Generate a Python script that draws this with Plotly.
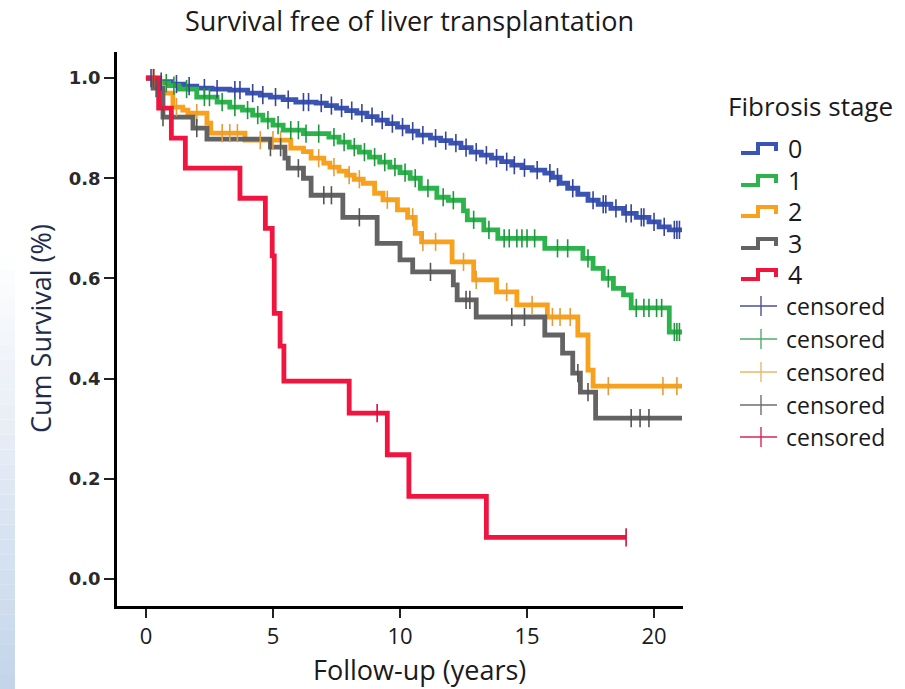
import numpy as np
import plotly.graph_objects as go

# ---- Kaplan-Meier estimates by fibrosis stage ----
# event times (years) and survival just after each step; curve starts at (0, 1.0)
stage_labels = ["0", "1", "2", "3", "4"]

s0_time = [0, 0.5, 1.0, 1.5, 2.0, 2.6, 3.3, 4.0, 4.5, 4.9, 5.4, 5.9, 6.7, 7.1, 7.5, 7.9,
           8.3, 8.7, 9.1, 9.5, 9.9, 10.3, 10.7, 11.2, 11.6, 12.0, 12.4, 12.8, 13.2, 13.6,
           14.0, 14.4, 14.8, 15.2, 15.7, 16.0, 16.3, 16.6, 17.0, 17.4, 17.8, 18.3, 18.8,
           19.3, 19.8, 20.2, 20.6]
s0_surv = [1.0, 0.993, 0.988, 0.984, 0.98, 0.978, 0.976, 0.97, 0.966, 0.962, 0.957, 0.952,
           0.95, 0.945, 0.94, 0.935, 0.93, 0.923, 0.916, 0.909, 0.902, 0.894, 0.886, 0.88,
           0.875, 0.87, 0.861, 0.852, 0.846, 0.84, 0.833, 0.826, 0.821, 0.816, 0.81, 0.802,
           0.79, 0.78, 0.768, 0.756, 0.748, 0.74, 0.73, 0.722, 0.713, 0.703, 0.697]
s0_censor = [0.2, 0.6, 1.2, 1.7, 2.3, 2.8, 3.5, 3.7, 4.2, 4.6, 5.1, 5.6, 6.2, 6.4, 6.9, 7.3,
             7.7, 8.1, 8.5, 8.9, 9.3, 9.7, 10.1, 10.5, 10.9, 11.4, 11.8, 12.2, 12.6, 13.0,
             13.4, 13.8, 14.2, 14.5, 14.9, 15.4, 15.9, 16.2, 16.8, 17.6, 18.0, 18.1, 18.5,
             18.9, 19.1, 19.5, 19.6, 20.0, 20.4, 20.8, 20.9, 21.0]
s0_end = 21.1

s1_time = [0, 0.4, 0.9, 1.3, 2.0, 2.8, 3.3, 3.8, 4.2, 4.6, 5.0, 5.4, 6.2, 7.2, 7.6, 8.0,
           8.4, 8.8, 9.2, 9.6, 10.0, 10.4, 10.8, 11.45, 11.9, 12.5, 12.65, 13.3, 13.85,
           15.7, 17.2, 17.6, 18.0, 18.4, 18.8, 19.1, 20.6]
s1_surv = [1.0, 0.99, 0.985, 0.978, 0.962, 0.952, 0.942, 0.936, 0.926, 0.916, 0.906, 0.896,
           0.889, 0.882, 0.872, 0.862, 0.852, 0.842, 0.832, 0.822, 0.811, 0.80, 0.78, 0.762,
           0.756, 0.735, 0.717, 0.697, 0.68, 0.66, 0.64, 0.62, 0.60, 0.58, 0.567, 0.541,
           0.493]
s1_censor = [0.3, 0.8, 1.1, 1.6, 2.3, 2.5, 3.0, 3.5, 4.0, 4.4, 4.8, 5.2, 5.7, 6.0, 6.3, 6.8,
             7.4, 7.8, 8.2, 8.6, 9.0, 9.4, 9.8, 10.2, 10.6, 11.1, 11.7, 12.1, 12.9, 13.5,
             14.1, 14.3, 14.6, 14.8, 15.0, 15.3, 16.2, 16.6, 17.4, 18.2, 19.3, 19.6, 19.8,
             20.1, 20.3, 20.8, 20.9, 21.0]
s1_end = 21.1

s2_time = [0, 0.55, 1.06, 1.45, 1.65, 2.4, 2.55, 3.9, 5.7, 6.2, 6.5, 7.0, 7.24, 7.6, 7.9,
           8.2, 8.55, 9.0, 9.33, 9.9, 10.3, 10.6, 10.85, 12.05, 12.9, 13.8, 14.6, 15.8,
           17.0, 17.4, 17.6]
s2_surv = [1.0, 0.97, 0.942, 0.936, 0.93, 0.91, 0.89, 0.876, 0.86, 0.853, 0.84, 0.83,
           0.822, 0.814, 0.806, 0.798, 0.79, 0.77, 0.757, 0.737, 0.722, 0.69, 0.673, 0.633,
           0.597, 0.573, 0.547, 0.523, 0.487, 0.417, 0.385]
s2_censor = [0.3, 1.2, 2.0, 3.0, 3.3, 3.6, 4.5, 5.0, 5.3, 6.8, 7.4, 8.0, 8.4, 9.5, 10.5,
             10.9, 11.4, 12.5, 13.0, 14.2, 15.2, 16.0, 16.3, 16.7, 18.2, 20.35, 20.9]
s2_end = 21.1

s3_time = [0, 0.28, 0.67, 1.85, 2.4, 4.9, 5.47, 5.6, 6.2, 6.5, 7.75, 9.1, 10.0, 10.5,
           12.1, 12.25, 13.0, 15.7, 16.4, 16.8, 17.1, 17.7]
s3_surv = [1.0, 0.98, 0.922, 0.90, 0.878, 0.862, 0.84, 0.82, 0.80, 0.766, 0.722, 0.67,
           0.637, 0.613, 0.587, 0.557, 0.523, 0.487, 0.451, 0.411, 0.373, 0.321]
s3_censor = [0.4, 0.67, 2.0, 4.9, 5.3, 6.0, 7.0, 7.3, 8.4, 11.2, 12.6, 12.75, 14.4, 14.9,
             17.0, 17.4, 19.1, 19.45, 19.8]
s3_end = 21.1

s4_time = [0, 0.5, 1.0, 1.55, 3.7, 4.7, 4.97, 5.05, 5.28, 5.43, 8.0, 9.5, 10.35, 13.4]
s4_surv = [1.0, 0.94, 0.88, 0.82, 0.76, 0.70, 0.645, 0.53, 0.465, 0.395, 0.331, 0.248,
           0.165, 0.083]
s4_censor = [0.3, 9.1, 18.9]
s4_end = 18.9

x_ticks = [0, 5, 10, 15, 20]
y_ticks = [0.0, 0.2, 0.4, 0.6, 0.8, 1.0]

# ---- styling ----
line_colors = ["#3a54b4", "#2db34c", "#f7a11d", "#636363", "#f0143f"]
censor_colors = ["#36449c", "#20973f", "#e49d3a", "#555555", "#d01040"]
legend_censor_colors = ["#4a4f9a", "#4cae6a", "#e9b86a", "#6e6e6e", "#d8245a"]
text_color = "#1a1a1a"
FONT = "Open Sans"

W, H = 905, 689
L, R, T, B = 117, 222, 52, 83
PW, PH = W - L - R, H - T - B


def px(x):
    return (x - L) / PW


def py(y):
    return (H - B - y) / PH


series = [
    (s0_time, s0_surv, s0_censor, s0_end),
    (s1_time, s1_surv, s1_censor, s1_end),
    (s2_time, s2_surv, s2_censor, s2_end),
    (s3_time, s3_surv, s3_censor, s3_end),
    (s4_time, s4_surv, s4_censor, s4_end),
]

fig = go.Figure()

# curves
for i, (t, s, c, end) in enumerate(series):
    xs = list(t) + [end]
    ys = list(s) + [s[-1]]
    fig.add_trace(go.Scatter(
        x=xs, y=ys, mode="lines", line=dict(color=line_colors[i], width=4.8, shape="hv"),
        name=stage_labels[i], showlegend=False, hoverinfo="skip"))

# censoring marks placed on the step function
for i, (t, s, c, end) in enumerate(series):
    ta = np.array(t)
    sa = np.array(s)
    idx = np.searchsorted(ta, np.array(c), side="right") - 1
    fig.add_trace(go.Scatter(
        x=c, y=sa[idx], mode="markers",
        marker=dict(symbol="line-ns", size=13, line=dict(color=censor_colors[i], width=1.6)),
        name="censored", showlegend=False, hoverinfo="skip"))

shapes = []
annotations = []

# soft blue strip on the left edge
n_band = 30
y0_band, y1_band = 240, H
for k in range(n_band):
    a = k / (n_band - 1)
    r = int(round(255 + (196 - 255) * a))
    g = int(round(255 + (213 - 255) * a))
    b = int(round(255 + (234 - 255) * a))
    ya = y0_band + (y1_band - y0_band) * k / n_band
    yb = y0_band + (y1_band - y0_band) * (k + 1) / n_band
    shapes.append(dict(type="rect", xref="paper", yref="paper", x0=px(0), x1=px(15),
                       y0=py(yb), y1=py(ya), line=dict(width=0),
                       fillcolor=f"rgb({r},{g},{b})", layer="below"))

# legend: title, step icons for the stages, crosses for censoring
LEG_TITLE = 26
LEG_SIZE = 23
annotations.append(dict(text="Fibrosis stage", x=px(726), y=py(106), xref="paper", yref="paper",
                        xanchor="left", yanchor="middle", showarrow=False,
                        font=dict(family=FONT, size=LEG_TITLE, color=text_color)))
row_y = [148, 180, 211, 243, 274]
for i, yc in enumerate(row_y):
    path = (f"M {px(741)},{py(yc + 5)} L {px(758)},{py(yc + 5)} L {px(758)},{py(yc - 4)} "
            f"L {px(776)},{py(yc - 4)} L {px(776)},{py(yc + 3)}")
    shapes.append(dict(type="path", xref="paper", yref="paper", path=path,
                       line=dict(color=line_colors[i], width=4)))
    annotations.append(dict(text=stage_labels[i], x=px(786), y=py(yc), xref="paper",
                            yref="paper", xanchor="left", yanchor="middle", showarrow=False,
                            font=dict(family=FONT, size=LEG_SIZE + 2, color=text_color)))
cens_y = [306, 339, 372, 405, 437]
for i, yc in enumerate(cens_y):
    shapes.append(dict(type="line", xref="paper", yref="paper", x0=px(740), x1=px(777),
                       y0=py(yc), y1=py(yc),
                       line=dict(color=legend_censor_colors[i], width=1.4)))
    shapes.append(dict(type="line", xref="paper", yref="paper", x0=px(761), x1=px(761),
                       y0=py(yc - 10), y1=py(yc + 10),
                       line=dict(color=legend_censor_colors[i], width=1.4)))
    annotations.append(dict(text="censored", x=px(784), y=py(yc), xref="paper", yref="paper",
                            xanchor="left", yanchor="middle", showarrow=False,
                            font=dict(family=FONT, size=LEG_SIZE, color=text_color)))

# titles
annotations.append(dict(text="Survival free of liver transplantation", x=px(409), y=py(20),
                        xref="paper", yref="paper", xanchor="center", yanchor="middle",
                        showarrow=False, font=dict(family=FONT, size=27, color=text_color)))
annotations.append(dict(text="Follow-up (years)", x=px(419), y=py(669), xref="paper",
                        yref="paper", xanchor="center", yanchor="middle", showarrow=False,
                        font=dict(family=FONT, size=27, color=text_color)))
annotations.append(dict(text="Cum Survival (%)", x=px(40), y=py(329), xref="paper",
                        yref="paper", xanchor="center", yanchor="middle", showarrow=False,
                        textangle=-90, font=dict(family=FONT, size=27, color="#1e2d4c")))

fig.update_layout(
    width=W, height=H, margin=dict(l=L, r=R, t=T, b=B),
    paper_bgcolor="white", plot_bgcolor="white", showlegend=False,
    shapes=shapes, annotations=annotations,
    xaxis=dict(range=[-1.14, 21.14], tickvals=x_ticks, ticktext=[str(v) for v in x_ticks],
               showline=True, linecolor="black", linewidth=2.5, ticks="outside", ticklen=9,
               tickwidth=1.5, tickcolor="#222", showgrid=False, zeroline=False,
               tickfont=dict(family=FONT, size=22, color=text_color)),
    yaxis=dict(range=[-0.054, 1.052], tickvals=y_ticks, tickformat=".1f",
               showline=True, linecolor="black", linewidth=2.5, ticks="outside", ticklen=10,
               tickwidth=1.5, tickcolor="#222", showgrid=False, zeroline=False,
               tickfont=dict(family="DejaVu Sans", size=18, color="#2a2a2a", weight="bold")),
)

fig.write_html("out.html")
